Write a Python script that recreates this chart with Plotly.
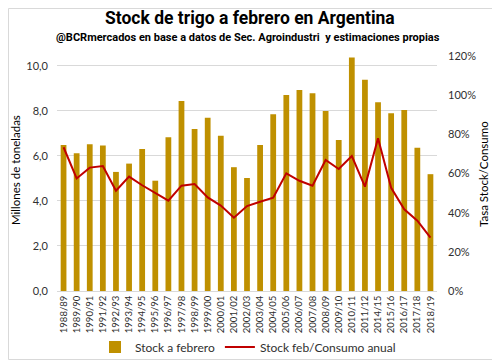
import plotly.graph_objects as go

campanias = ["1988/89", "1989/90", "1990/91", "1991/92", "1992/93", "1993/94", "1994/95",
             "1995/96", "1996/97", "1997/98", "1998/99", "1999/00", "2000/01", "2001/02",
             "2002/03", "2003/04", "2004/05", "2005/06", "2006/07", "2007/08", "2008/09",
             "2009/10", "2010/11", "2011/12", "2014/15", "2015/16", "2016/17", "2017/18",
             "2018/19"]
stock_febrero = [6.49, 6.12, 6.52, 6.46, 5.29, 5.66, 6.31, 4.90, 6.83, 8.44, 7.20, 7.70,
                 6.90, 5.50, 5.02, 6.49, 7.85, 8.71, 8.93, 8.78, 8.00, 6.71, 10.37, 9.38,
                 8.39, 7.90, 8.04, 6.36, 5.19]
stock_consumo = [0.734, 0.575, 0.630, 0.638, 0.512, 0.584, 0.540, 0.502, 0.461, 0.538,
                 0.546, 0.478, 0.436, 0.374, 0.434, 0.456, 0.476, 0.601, 0.563, 0.538,
                 0.669, 0.623, 0.689, 0.533, 0.780, 0.527, 0.417, 0.359, 0.272]

GOLD = "#BF9000"
RED = "#C00000"
FONT = "Lato, 'Open Sans', sans-serif"
TITLEFONT = "Roboto, Lato, sans-serif"

fig = go.Figure()
fig.add_trace(go.Bar(x=campanias, y=stock_febrero, name="Stock a febrero",
                     marker=dict(color=GOLD, line=dict(width=0)), yaxis="y"))
fig.add_trace(go.Scatter(x=campanias, y=stock_consumo, name="Stock feb/Consumo anual",
                         mode="lines", line=dict(color=RED, width=2), yaxis="y2"))

# the page body adds an 8px offset; work in reference pixels and subtract it
OFF = 8
W, H = 500 - OFF, 363 - OFF
L, R, T, B = 57 - OFF, 500 - 437, 56 - OFF, 363 - 291
pw, ph = W - L - R, H - T - B

def px(x):
    return (x - OFF - L) / pw

def py(y):
    return (H - B - (y - OFF)) / ph

fig.update_layout(
    width=W, height=H,
    margin=dict(l=L, r=R, t=T, b=B, autoexpand=False),
    paper_bgcolor="white", plot_bgcolor="white",
    separators=",.",
    bargap=0.56,
    font=dict(family=FONT, size=11, color="#303030"),
    showlegend=True,
    legend=dict(orientation="h", xanchor="center", x=px(248), yanchor="middle", y=py(347),
                font=dict(size=12, color="#303030"), bgcolor="rgba(0,0,0,0)",
                itemwidth=30, tracegroupgap=0),
    xaxis=dict(type="category", tickangle=-90, tickfont=dict(size=9.5, color="#303030"),
               showgrid=False, showline=True, linecolor="#D9D9D9", linewidth=1,
               ticks="", automargin=False),
    yaxis=dict(range=[0, 10.44], dtick=2, tickformat=".1f", showgrid=True,
               gridcolor="#D9D9D9", gridwidth=1, zeroline=False, showline=False,
               ticks="", ticklabelstandoff=8, tickfont=dict(size=11, color="#303030"),
               automargin=False),
    yaxis2=dict(range=[0, 1.2], dtick=0.2, tickformat=".0%", overlaying="y", side="right",
                showgrid=False, zeroline=False, showline=False, ticks="",
                ticklabelstandoff=10, tickfont=dict(size=11, color="#303030"),
                automargin=False),
    annotations=[
        dict(text="<b>Stock de trigo a febrero en Argentina</b>", xref="paper", yref="paper",
             x=px(250), y=py(18), xanchor="center", yanchor="middle", showarrow=False,
             font=dict(family=TITLEFONT, size=17.5, color="black")),
        dict(text="<b>@BCRmercados en base a datos de Sec. Agroindustri  y estimaciones propias</b>",
             xref="paper", yref="paper", x=px(248), y=py(37), xanchor="center",
             yanchor="middle", showarrow=False,
             font=dict(family=TITLEFONT, size=11, color="black")),
        dict(text="Millones de toneladas", xref="paper", yref="paper", x=px(15), y=py(170),
             xanchor="center", yanchor="middle", textangle=-90, showarrow=False,
             font=dict(size=11.5, color="black")),
        dict(text="Tasa Stock/Consumo", xref="paper", yref="paper", x=px(483), y=py(174),
             xanchor="center", yanchor="middle", textangle=-90, showarrow=False,
             font=dict(size=11.5, color="black")),
    ],
    shapes=[dict(type="rect", xref="paper", yref="paper", x0=px(8.5), x1=px(497.5),
                 y0=py(359.5), y1=py(8.5), line=dict(color="#D9D9D9", width=1),
                 fillcolor="rgba(0,0,0,0)", layer="below")],
)

fig.write_html("out.html")
